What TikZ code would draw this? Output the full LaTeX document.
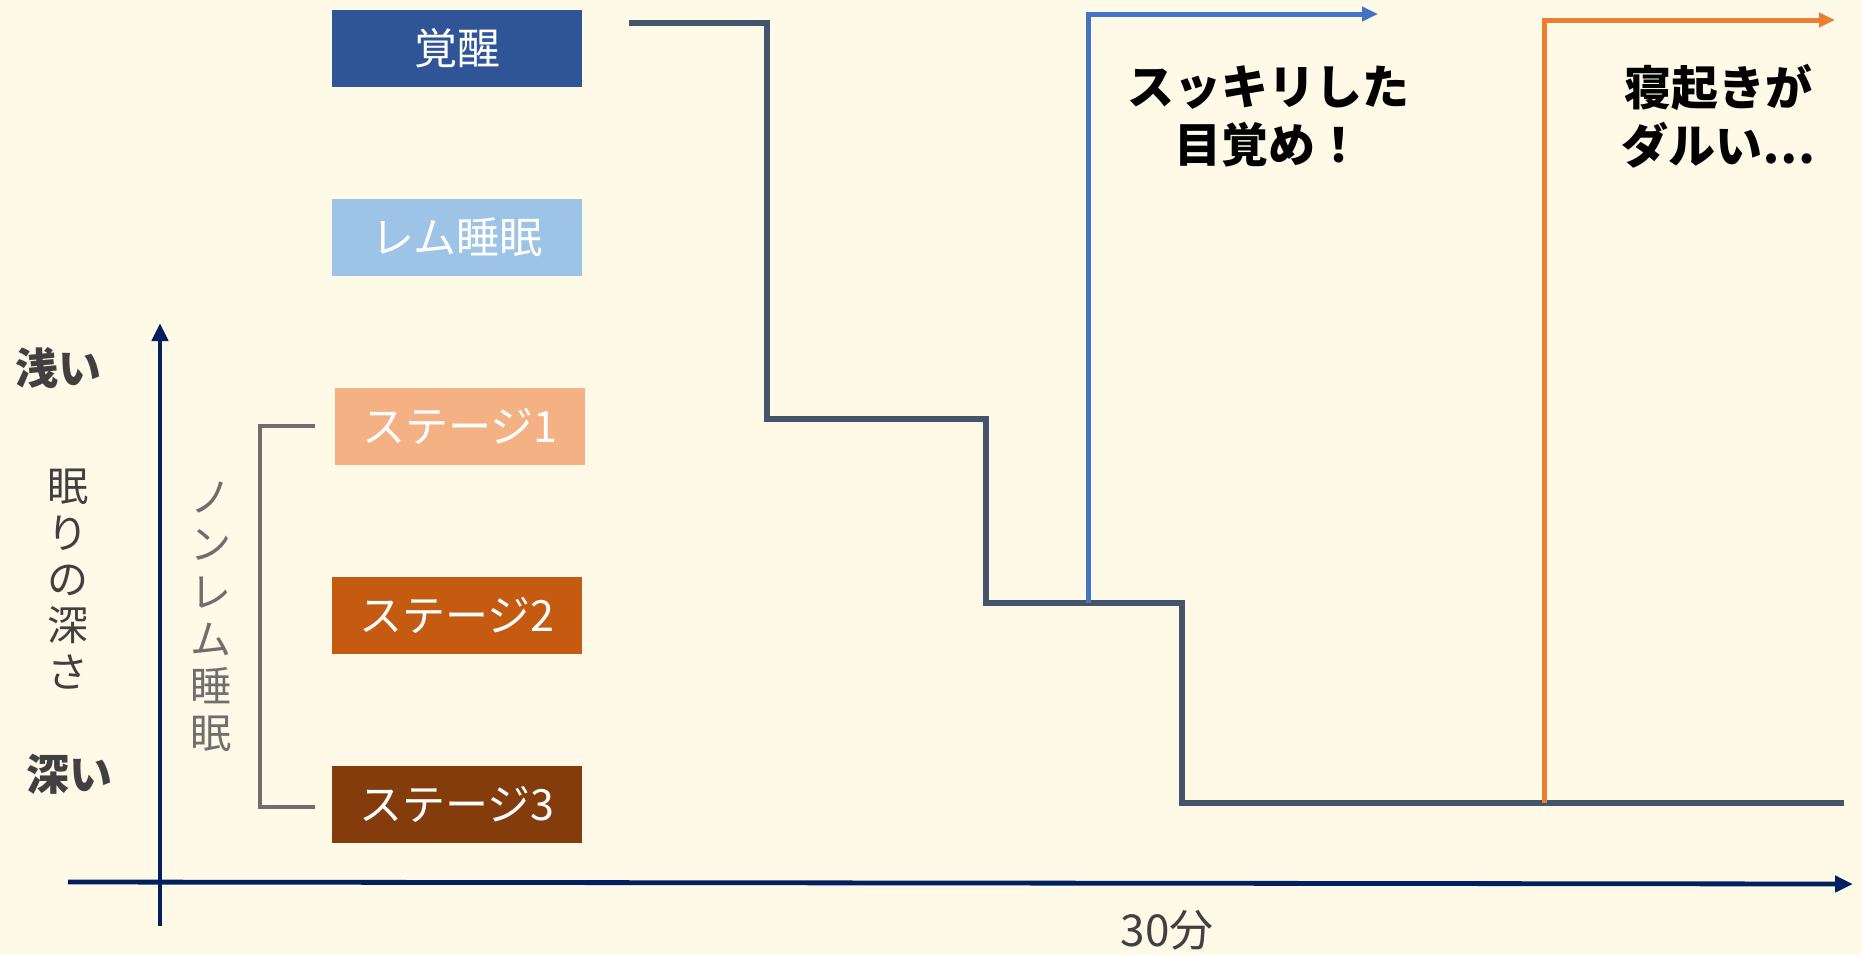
\documentclass[tikz,border=0pt]{standalone}
\usepackage{fontspec}
\newfontfamily\jp{Noto Sans CJK JP}
\usetikzlibrary{arrows.meta}
\definecolor{bg}{HTML}{FFF9E7}
\definecolor{cwake}{HTML}{2F5597}
\definecolor{crem}{HTML}{9DC3E6}
\definecolor{cs1}{HTML}{F4B183}
\definecolor{cs2}{HTML}{C55A11}
\definecolor{cs3}{HTML}{843C0C}
\definecolor{cstair}{HTML}{44546A}
\definecolor{cblue}{HTML}{4472C4}
\definecolor{corange}{HTML}{ED7D31}
\definecolor{caxis}{HTML}{002060}
\definecolor{ctext}{HTML}{404040}
\definecolor{cbracket}{HTML}{6E6E6E}
\tikzset{
  stagebox/.style={minimum width=125pt, minimum height=38.5pt, inner sep=0pt, text=white, font=\jp\fontsize{21.5}{24}\selectfont},
  axisline/.style={draw=caxis, line width=2.4pt, -{Triangle[length=9pt,width=8pt]}},
  stair/.style={draw=cstair, line width=3pt},
  wakeline/.style={line width=2.5pt, -{Triangle[length=8pt,width=7pt]}},
  bracket/.style={draw=cbracket, line width=1.8pt},
  boldlabel/.style={font=\jp\bfseries\fontsize{23.5}{29}\selectfont, align=center},
  vlabel/.style={align=center, inner sep=0pt},
}
\begin{document}
\begin{tikzpicture}[x=0.5pt,y=-0.5pt]
\fill[bg] (0,0) rectangle (1862,955);
\useasboundingbox (0,0) rectangle (1862,955);

% stage boxes
\node[stagebox, fill=cwake] (wake) at (457,48.5) {覚醒};
\node[stagebox, fill=crem] (rem) at (457,237.5) {レム睡眠};
\node[stagebox, fill=cs1] (s1) at (460,426) {ステージ1};
\node[stagebox, fill=cs2] (s2) at (457,615) {ステージ2};
\node[stagebox, fill=cs3] (s3) at (457,804) {ステージ3};

% bracket
\coordinate (b1) at (315,426);
\coordinate (b2) at (315,807);
\draw[bracket] (b1) -- ++(-55,0) |- (b2);

% axes
\coordinate (yo) at (160,926);
\coordinate (ytop) at (160,323);
\coordinate (xo) at (68,882);
\coordinate (xend) at (1853,884);
\draw[axisline] (yo) -- (ytop);
\draw[axisline] (xo) -- (xend);

% staircase
\coordinate (p0) at (629,23);
\coordinate (p1) at (767,23);
\coordinate (p2) at (767,419);
\coordinate (p3) at (986,419);
\coordinate (p4) at (986,603);
\coordinate (p5) at (1182,603);
\coordinate (p6) at (1182,803);
\coordinate (p7) at (1844,803);
\draw[stair] (p0) -- (p1) -- (p2) -- (p3) -- (p4) -- (p5) -- (p6) -- (p7);

% blue wake line
\coordinate (bs) at (1088,603);
\coordinate (bc) at (1088,14);
\coordinate (be) at (1378,14);
\draw[wakeline, cblue] (bs) -- (bc) -- (be);

% orange wake line
\coordinate (os) at (1544,803);
\coordinate (oc) at (1544,20);
\coordinate (oe) at (1835,20);
\draw[wakeline, corange] (os) -- (oc) -- (oe);

% labels
\node[boldlabel, text=black] (good) at (1268,116) {スッキリした\\目覚め！};
\node[boldlabel, text=black] (bad) at (1718,116) {寝起きが\\ダルい…};

\node[font=\jp\bfseries\fontsize{21.5}{24}\selectfont, text=ctext] (shallow) at (59,368) {浅い};
\node[font=\jp\bfseries\fontsize{21.5}{24}\selectfont, text=ctext] (deep) at (69,774) {深い};
\node[vlabel, font=\jp\fontsize{20.5}{23.2}\selectfont, text=ctext] (depth) at (68,579) {眠\\り\\の\\深\\さ};
\node[vlabel, font=\jp\fontsize{20.5}{23.6}\selectfont, text=cbracket] (nonrem) at (211,617) {ノ\\ン\\レ\\ム\\睡\\眠};
\node[font=\jp\fontsize{22}{24}\selectfont, text=ctext] (min) at (1167,930) {30分};
\end{tikzpicture}
\end{document}
